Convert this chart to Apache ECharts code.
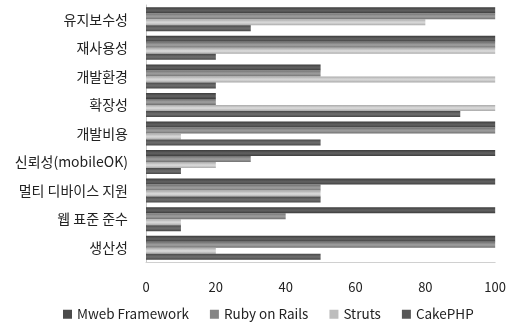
<!DOCTYPE html>
<html>
<head>
<meta charset="utf-8">
<script src="https://cdn.jsdelivr.net/npm/echarts@6/dist/echarts.min.js"></script>
<style>
  html, body { margin: 0; padding: 0; background: #fff; }
  #chart { width: 509px; height: 327px; }
</style>
</head>
<body>
<div id="chart"></div>
<script>
// Evaluation criteria, listed top to bottom
const categories = ['유지보수성', '재사용성', '개발환경', '확장성', '개발비용', '신뢰성(mobileOK)', '멀티 디바이스 지원', '웹 표준 준수', '생산성'];

// Scores per framework
const mwebFramework = [100, 100, 50, 20, 100, 100, 100, 100, 100];
const rubyOnRails   = [100, 100, 50, 20, 100, 30, 50, 40, 100];
const struts        = [80, 100, 100, 100, 10, 20, 50, 10, 20];
const cakePHP       = [30, 20, 20, 90, 50, 10, 50, 10, 50];

const seriesNames = ['Mweb Framework', 'Ruby on Rails', 'Struts', 'CakePHP'];
const xTicks = [0, 20, 40, 60, 80, 100];

// Base, highlight and edge shades for the cylinder-like bars
const shades = [
  { edge: '#3c3c3c', mid: '#5e5e5e', base: '#4a4a4a' },
  { edge: '#6f6f6f', mid: '#9a9a9a', base: '#858585' },
  { edge: '#a9a9a9', mid: '#d6d6d6', base: '#bdbdbd' },
  { edge: '#474747', mid: '#6a6a6a', base: '#575757' }
];

function barFill(s) {
  return new echarts.graphic.LinearGradient(0, 0, 0, 1, [
    { offset: 0, color: s.edge },
    { offset: 0.45, color: s.mid },
    { offset: 0.6, color: s.mid },
    { offset: 1, color: s.edge }
  ]);
}

const values = [mwebFramework, rubyOnRails, struts, cakePHP];
const fontFamily = '"Noto Sans CJK KR", "Noto Sans", sans-serif';

const chart = echarts.init(document.getElementById('chart'));
chart.setOption({
  animation: false,
  grid: { left: 146, right: 9, top: 5, bottom: 65 },
  legend: {
    bottom: 1,
    left: 58,
    itemWidth: 9,
    itemHeight: 9,
    itemGap: 21,
    icon: 'rect',
    textStyle: { fontFamily, fontSize: 13.5, color: '#222' },
    data: seriesNames.map((n, i) => ({ name: n, itemStyle: { color: shades[i].base } }))
  },
  xAxis: {
    type: 'value',
    min: 0,
    max: 100,
    interval: 20,
    axisLine: { show: true, lineStyle: { color: '#d0d0d0' } },
    axisTick: { show: false },
    splitLine: { show: false },
    axisLabel: {
      margin: 19,
      fontFamily,
      fontSize: 13,
      color: '#222',
      formatter: v => (xTicks.includes(v) ? String(v) : '')
    }
  },
  yAxis: {
    type: 'category',
    inverse: true,
    data: categories,
    axisLine: { show: true, lineStyle: { color: '#c8c8c8', width: 1 } },
    axisTick: { show: false },
    axisLabel: { margin: 18, fontFamily, fontSize: 14, color: '#222' }
  },
  series: seriesNames.map((name, i) => ({
    name,
    type: 'bar',
    data: values[i],
    barGap: '0%',
    barCategoryGap: '16%',
    itemStyle: { color: barFill(shades[i]) }
  }))
});
</script>
</body>
</html>
